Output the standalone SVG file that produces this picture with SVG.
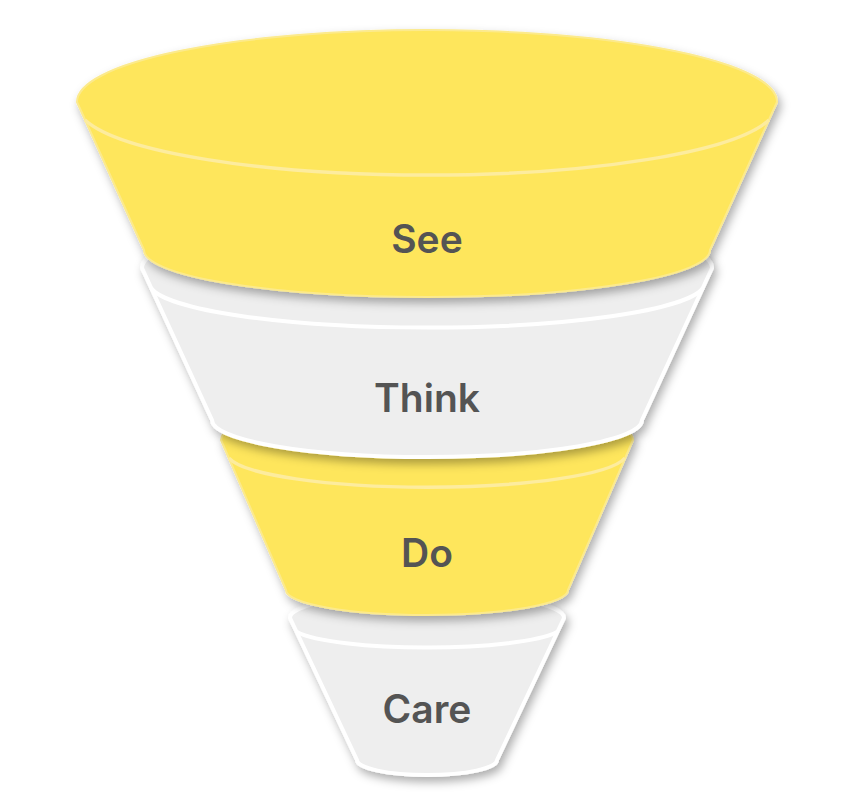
<svg xmlns="http://www.w3.org/2000/svg" width="843" height="800" viewBox="0 0 843 800">
  <defs>
    <filter id="sh" x="-20%" y="-20%" width="140%" height="150%">
      <feDropShadow dx="3" dy="5" stdDeviation="5" flood-color="#000" flood-opacity="0.32"/>
    </filter>
    <style>
      .y { fill: #FEE65C; stroke: #FCEA8C; stroke-width: 2; stroke-linejoin: round; }
      .g { fill: #EEEEEE; stroke: #FFFFFF; stroke-width: 4; stroke-linejoin: round; }
      .ry { fill: none; stroke: #FDEC9E; stroke-width: 3.5; }
      .rg { fill: none; stroke: #FFFFFF; stroke-width: 4; }
      .lbl { font-family: Inter, "Open Sans", "Liberation Sans", sans-serif; font-weight: 600; font-size: 39px; fill: #545454; text-anchor: middle; }
    </style>
  </defs>
  <rect width="843" height="800" fill="#FFFFFF"/>

  <g id="care">
    <g filter="url(#sh)">
      <path class="g" d="M 290,618 A 137,25 0 0 1 564,618 L 497,760 A 70,15 0 0 1 357,760 Z"/>
    </g>
    <path class="rg" d="M 297,632 A 136,22 0 0 0 557,632"/>
    <text class="lbl" x="427" y="723">Care</text>
  </g>

  <g id="do">
    <g filter="url(#sh)">
      <path class="y" d="M 221,440 A 206,38 0 0 1 633,440 L 568,590 A 141,25 0 0 1 286,590 Z"/>
    </g>
    <path class="ry" d="M 229,458 A 200,34 0 0 0 625,458"/>
    <text class="lbl" x="427" y="567">Do</text>
  </g>

  <g id="think">
    <g filter="url(#sh)">
      <path class="g" d="M 142,268 A 285,50 0 0 1 712,268 L 642,420 A 215,37 0 0 1 212,420 Z"/>
    </g>
    <path class="rg" d="M 151,288 A 278,45 0 0 0 703,288"/>
    <text class="lbl" x="427" y="412">Think</text>
  </g>

  <g id="see">
    <g filter="url(#sh)">
      <path class="y" d="M 77,102 A 350,72 0 0 1 777,102 L 710,250 A 283,47 0 0 1 144,250 Z"/>
    </g>
    <path class="ry" d="M 85,120 A 350,70 0 0 0 769,120"/>
    <text class="lbl" x="427" y="253">See</text>
  </g>

  <g id="connectors"/>
</svg>
